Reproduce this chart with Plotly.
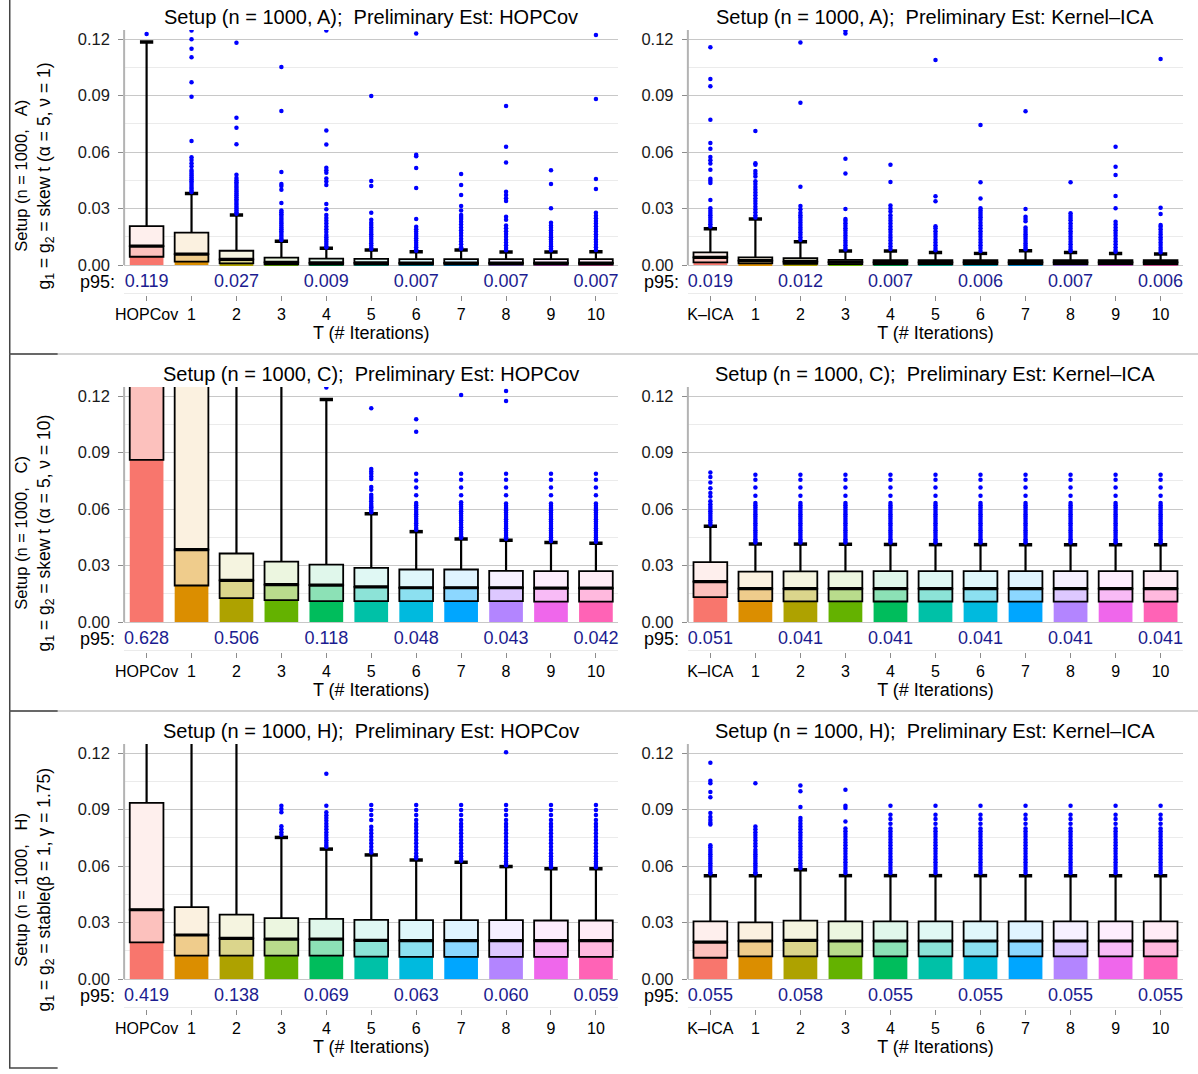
import plotly.graph_objects as go

W, H = 1198, 1074

# ---------------- categories / labels ----------------
HOP_CATS = ["HOPCov", "1", "2", "3", "4", "5", "6", "7", "8", "9", "10"]
ICA_CATS = ["K\u2013ICA", "1", "2", "3", "4", "5", "6", "7", "8", "9", "10"]
P95_POS = [0, 2, 4, 6, 8, 10]
COLORS = ["#F8766D", "#DB8E00", "#AEA200", "#64B200", "#00BD5C", "#00C1A7",
          "#00BADE", "#00A6FF", "#B385FF", "#EF67EB", "#FF63B6"]

# ---------------- Setup A, HOPCov ----------------
A_HOP_Q1 = [0.0044, 0.0018, 0.0009, 0.0004, 0.0003, 0.0003, 0.0003, 0.0003, 0.0003, 0.0003, 0.0003]
A_HOP_MED = [0.0101, 0.0058, 0.0030, 0.0014, 0.0012, 0.0012, 0.0011, 0.0011, 0.0011, 0.0011, 0.0011]
A_HOP_Q3 = [0.0207, 0.0172, 0.0076, 0.0039, 0.0034, 0.0033, 0.0032, 0.0032, 0.0032, 0.0032, 0.0032]
A_HOP_WHI = [0.1184, 0.0380, 0.0266, 0.0127, 0.0089, 0.0080, 0.0071, 0.0080, 0.0069, 0.0069, 0.0071]
A_HOP_OUT = [
    [0.1227],
    [0.1245, 0.1199, 0.1149, 0.1103, 0.0970, 0.0894, 0.0659, 0.0572, 0.0558, 0.0540, 0.0525, 0.0505,
     0.0495, 0.0485, 0.0475, 0.0465, 0.0455, 0.0445, 0.0435, 0.0425, 0.0415, 0.0405, 0.0395, 0.0388],
    [0.1180, 0.0782, 0.0729, 0.0642, 0.0480, 0.0462, 0.0450, 0.0440, 0.0430, 0.0420, 0.0410, 0.0400,
     0.0390, 0.0380, 0.0370, 0.0360, 0.0350, 0.0340, 0.0330, 0.0320, 0.0310, 0.0300, 0.0290, 0.0280, 0.0272],
    [0.1051, 0.0818, 0.0494, 0.0430, 0.0420, 0.0400, 0.0330, 0.0290, 0.0280, 0.0270, 0.0260, 0.0250,
     0.0240, 0.0230, 0.0220, 0.0210, 0.0200, 0.0190, 0.0180, 0.0170, 0.0160, 0.0150, 0.0140, 0.0133],
    [0.1245, 0.0715, 0.0640, 0.0517, 0.0503, 0.0490, 0.0460, 0.0443, 0.0425, 0.0324, 0.0296, 0.0266,
     0.0250, 0.0235, 0.0220, 0.0205, 0.0190, 0.0175, 0.0160, 0.0148, 0.0136, 0.0124, 0.0112, 0.0100, 0.0093],
    [0.0897, 0.0446, 0.0420, 0.0278, 0.0240, 0.0225, 0.0213, 0.0200, 0.0188, 0.0176, 0.0164, 0.0152,
     0.0140, 0.0128, 0.0116, 0.0104, 0.0092, 0.0085],
    [0.1230, 0.0585, 0.0578, 0.0515, 0.0409, 0.0244, 0.0203, 0.0190, 0.0178, 0.0166, 0.0154, 0.0142,
     0.0130, 0.0118, 0.0106, 0.0094, 0.0082, 0.0076],
    [0.0483, 0.0425, 0.0372, 0.0313, 0.0290, 0.0266, 0.0255, 0.0245, 0.0230, 0.0215, 0.0200, 0.0185,
     0.0170, 0.0155, 0.0140, 0.0125, 0.0110, 0.0095, 0.0086],
    [0.0844, 0.0628, 0.0545, 0.0389, 0.0372, 0.0355, 0.0340, 0.0256, 0.0240, 0.0210, 0.0195, 0.0180,
     0.0165, 0.0150, 0.0135, 0.0120, 0.0105, 0.0090, 0.0078],
    [0.0504, 0.0430, 0.0301, 0.0225, 0.0210, 0.0198, 0.0185, 0.0172, 0.0160, 0.0148, 0.0136, 0.0124,
     0.0112, 0.0100, 0.0088, 0.0078],
    [0.1221, 0.0882, 0.0457, 0.0404, 0.0278, 0.0262, 0.0248, 0.0234, 0.0220, 0.0206, 0.0192, 0.0178,
     0.0164, 0.0150, 0.0136, 0.0122, 0.0108, 0.0094, 0.0080],
]
A_HOP_P95 = [0.119, 0.027, 0.009, 0.007, 0.007, 0.007]

# ---------------- Setup A, Kernel-ICA ----------------
A_ICA_Q1 = [0.0014, 0.0009, 0.0007, 0.0005, 0.0004, 0.0004, 0.0004, 0.0004, 0.0004, 0.0004, 0.0004]
A_ICA_MED = [0.0041, 0.0023, 0.0018, 0.0016, 0.0014, 0.0014, 0.0014, 0.0014, 0.0014, 0.0014, 0.0014]
A_ICA_Q3 = [0.0067, 0.0041, 0.0036, 0.0028, 0.0026, 0.0026, 0.0026, 0.0026, 0.0026, 0.0026, 0.0026]
A_ICA_WHI = [0.0193, 0.0244, 0.0124, 0.0074, 0.0074, 0.0066, 0.0062, 0.0076, 0.0067, 0.0062, 0.0059]
A_ICA_OUT = [
    [0.1157, 0.0988, 0.0949, 0.0772, 0.0648, 0.0618, 0.0574, 0.0556, 0.0539, 0.0506, 0.0458, 0.0448,
     0.0436, 0.0345, 0.0301, 0.0288, 0.0276, 0.0264, 0.0252, 0.0240, 0.0228, 0.0216, 0.0205],
    [0.0712, 0.0541, 0.0532, 0.0500, 0.0485, 0.0470, 0.0445, 0.0430, 0.0415, 0.0400, 0.0385, 0.0370,
     0.0355, 0.0340, 0.0325, 0.0310, 0.0295, 0.0280, 0.0265, 0.0252],
    [0.1181, 0.0862, 0.0416, 0.0313, 0.0296, 0.0278, 0.0265, 0.0252, 0.0239, 0.0226, 0.0213, 0.0200,
     0.0187, 0.0174, 0.0161, 0.0148, 0.0135],
    [0.1244, 0.1229, 0.0564, 0.0486, 0.0298, 0.0245, 0.0235, 0.0222, 0.0209, 0.0196, 0.0183, 0.0170,
     0.0157, 0.0144, 0.0131, 0.0118, 0.0105, 0.0092, 0.0082],
    [0.0533, 0.0441, 0.0316, 0.0300, 0.0285, 0.0265, 0.0250, 0.0235, 0.0220, 0.0205, 0.0190, 0.0175,
     0.0160, 0.0145, 0.0130, 0.0115, 0.0100, 0.0085],
    [0.1089, 0.0365, 0.0339, 0.0206, 0.0195, 0.0180, 0.0165, 0.0150, 0.0135, 0.0120, 0.0105, 0.0090, 0.0078],
    [0.0743, 0.0439, 0.0354, 0.0301, 0.0290, 0.0278, 0.0266, 0.0254, 0.0240, 0.0225, 0.0210, 0.0195,
     0.0180, 0.0165, 0.0150, 0.0135, 0.0120, 0.0105, 0.0090, 0.0074],
    [0.0817, 0.0297, 0.0257, 0.0245, 0.0232, 0.0200, 0.0188, 0.0176, 0.0164, 0.0152, 0.0140, 0.0128,
     0.0116, 0.0104, 0.0092, 0.0084],
    [0.0439, 0.0275, 0.0262, 0.0250, 0.0238, 0.0222, 0.0208, 0.0194, 0.0180, 0.0166, 0.0152, 0.0138,
     0.0124, 0.0110, 0.0096, 0.0082, 0.0074],
    [0.0628, 0.0522, 0.0478, 0.0366, 0.0301, 0.0230, 0.0215, 0.0200, 0.0185, 0.0170, 0.0155, 0.0140,
     0.0125, 0.0110, 0.0095, 0.0080, 0.0070],
    [0.1094, 0.0304, 0.0271, 0.0213, 0.0204, 0.0190, 0.0176, 0.0162, 0.0148, 0.0134, 0.0120, 0.0106,
     0.0092, 0.0080, 0.0068],
]
A_ICA_P95 = [0.019, 0.012, 0.007, 0.006, 0.007, 0.006]

# ---------------- Setup C, HOPCov ----------------
C_HOP_Q1 = [0.0861, 0.0194, 0.0127, 0.0116, 0.0111, 0.0111, 0.0111, 0.0111, 0.0111, 0.0108, 0.0108]
C_HOP_MED = [0.160, 0.0385, 0.0221, 0.0199, 0.0196, 0.0187, 0.0182, 0.0182, 0.0182, 0.0180, 0.0180]
C_HOP_Q3 = [0.350, 0.200, 0.0364, 0.0321, 0.0305, 0.0288, 0.0279, 0.0279, 0.0272, 0.0270, 0.0270]
C_HOP_WHI = [0.900, 0.800, 0.300, 0.200, 0.1182, 0.0575, 0.0480, 0.0441, 0.0434, 0.0422, 0.0418]
C_HOP_OUT = [
    [], [], [], [],
    [0.1245],
    [0.1135, 0.0812, 0.0800, 0.0787, 0.0773, 0.0759, 0.0717, 0.0702, 0.0676, 0.0664, 0.0653, 0.0641,
     0.0628, 0.0618, 0.0609, 0.0600, 0.0591, 0.0583],
    [0.1077, 0.1010, 0.0787, 0.0752, 0.0715, 0.0673, 0.0632, 0.0620, 0.0608, 0.0596, 0.0584, 0.0572,
     0.0560, 0.0548, 0.0536, 0.0524, 0.0512, 0.0500, 0.0490],
    [0.1205, 0.0787, 0.0755, 0.0715, 0.0673, 0.0636, 0.0624, 0.0612, 0.0600, 0.0588, 0.0576, 0.0564,
     0.0552, 0.0540, 0.0528, 0.0516, 0.0504, 0.0492, 0.0480, 0.0468, 0.0456, 0.0448],
    [0.1227, 0.1174, 0.0787, 0.0755, 0.0715, 0.0673, 0.0630, 0.0618, 0.0606, 0.0594, 0.0582, 0.0570,
     0.0558, 0.0546, 0.0534, 0.0522, 0.0510, 0.0498, 0.0486, 0.0474, 0.0462, 0.0450, 0.0442],
    [0.0787, 0.0755, 0.0715, 0.0673, 0.0630, 0.0618, 0.0606, 0.0594, 0.0582, 0.0570, 0.0558, 0.0546,
     0.0534, 0.0522, 0.0510, 0.0498, 0.0486, 0.0474, 0.0462, 0.0450, 0.0438, 0.0430],
    [0.0787, 0.0755, 0.0715, 0.0673, 0.0630, 0.0618, 0.0606, 0.0594, 0.0582, 0.0570, 0.0558, 0.0546,
     0.0534, 0.0522, 0.0510, 0.0498, 0.0486, 0.0474, 0.0462, 0.0450, 0.0438, 0.0426],
]
C_HOP_P95 = [0.628, 0.506, 0.118, 0.048, 0.043, 0.042]

# ---------------- Setup C, Kernel-ICA ----------------
C_ICA_Q1 = [0.0132, 0.0111, 0.0110, 0.0110, 0.0109, 0.0109, 0.0108, 0.0108, 0.0108, 0.0108, 0.0108]
C_ICA_MED = [0.0215, 0.0178, 0.0178, 0.0178, 0.0178, 0.0178, 0.0178, 0.0178, 0.0178, 0.0178, 0.0178]
C_ICA_Q3 = [0.0318, 0.0268, 0.0269, 0.0269, 0.0270, 0.0270, 0.0270, 0.0270, 0.0270, 0.0270, 0.0270]
C_ICA_WHI = [0.0508, 0.0415, 0.0414, 0.0413, 0.0412, 0.0411, 0.0411, 0.0411, 0.0411, 0.0411, 0.0411]
C_ICA_OUT_KICA = [0.0794, 0.0770, 0.0741, 0.0711, 0.0685, 0.0667, 0.0641, 0.0625, 0.0612, 0.0600,
                  0.0588, 0.0576, 0.0564, 0.0552, 0.0540, 0.0528, 0.0518]
C_ICA_OUT_ITER = [0.0782, 0.0755, 0.0715, 0.0671, 0.0632, 0.0620, 0.0608, 0.0596, 0.0584, 0.0572,
                  0.0560, 0.0548, 0.0536, 0.0524, 0.0512, 0.0500, 0.0488, 0.0476, 0.0464, 0.0452,
                  0.0440, 0.0430, 0.0422]
C_ICA_P95 = [0.051, 0.041, 0.041, 0.041, 0.041, 0.041]

# ---------------- Setup H, HOPCov ----------------
H_HOP_Q1 = [0.0195, 0.0124, 0.0124, 0.0124, 0.0124, 0.0119, 0.0118, 0.0118, 0.0118, 0.0118, 0.0118]
H_HOP_MED = [0.0368, 0.0234, 0.0216, 0.0212, 0.0212, 0.0205, 0.0204, 0.0204, 0.0204, 0.0204, 0.0204]
H_HOP_Q3 = [0.0935, 0.0382, 0.0342, 0.0324, 0.0319, 0.0314, 0.0313, 0.0313, 0.0313, 0.0311, 0.0311]
H_HOP_WHI = [0.500, 0.300, 0.200, 0.0752, 0.0690, 0.0659, 0.0632, 0.0620, 0.0597, 0.0586, 0.0586]
H_HOP_OUT = [
    [], [], [],
    [0.0920, 0.0903, 0.0885, 0.0811, 0.0796, 0.0779, 0.0766],
    [0.1090, 0.0920, 0.0885, 0.0870, 0.0855, 0.0840, 0.0825, 0.0810, 0.0795, 0.0780, 0.0765, 0.0750,
     0.0737, 0.0724, 0.0712, 0.0702],
    [0.0924, 0.0897, 0.0871, 0.0844, 0.0809, 0.0791, 0.0774, 0.0756, 0.0738, 0.0721, 0.0703, 0.0685, 0.0672],
    [0.0924, 0.0897, 0.0871, 0.0844, 0.0825, 0.0809, 0.0791, 0.0774, 0.0756, 0.0738, 0.0721, 0.0703,
     0.0685, 0.0668, 0.0652, 0.0642],
    [0.0924, 0.0897, 0.0871, 0.0844, 0.0825, 0.0809, 0.0791, 0.0774, 0.0756, 0.0738, 0.0721, 0.0703,
     0.0685, 0.0668, 0.0652, 0.0638, 0.0628],
    [0.1204, 0.0924, 0.0897, 0.0871, 0.0844, 0.0825, 0.0809, 0.0791, 0.0774, 0.0756, 0.0738, 0.0721,
     0.0703, 0.0685, 0.0668, 0.0652, 0.0638, 0.0624, 0.0612, 0.0604],
    [0.0924, 0.0897, 0.0871, 0.0844, 0.0825, 0.0809, 0.0791, 0.0774, 0.0756, 0.0738, 0.0721, 0.0703,
     0.0685, 0.0668, 0.0652, 0.0638, 0.0624, 0.0612, 0.0600, 0.0593],
    [0.0924, 0.0897, 0.0871, 0.0844, 0.0825, 0.0809, 0.0791, 0.0774, 0.0756, 0.0738, 0.0721, 0.0703,
     0.0685, 0.0668, 0.0652, 0.0638, 0.0624, 0.0612, 0.0600, 0.0593],
]
H_HOP_P95 = [0.419, 0.138, 0.069, 0.063, 0.060, 0.059]

# ---------------- Setup H, Kernel-ICA ----------------
H_ICA_Q1 = [0.0113, 0.0120, 0.0120, 0.0120, 0.0120, 0.0120, 0.0120, 0.0120, 0.0120, 0.0120, 0.0120]
H_ICA_MED = [0.0196, 0.0202, 0.0205, 0.0202, 0.0202, 0.0202, 0.0202, 0.0202, 0.0202, 0.0202, 0.0202]
H_ICA_Q3 = [0.0306, 0.0301, 0.0310, 0.0306, 0.0306, 0.0306, 0.0306, 0.0306, 0.0306, 0.0306, 0.0306]
H_ICA_WHI = [0.0549, 0.0549, 0.0580, 0.0549, 0.0549, 0.0549, 0.0549, 0.0549, 0.0549, 0.0549, 0.0549]
H_ICA_OUT_KICA = [0.1149, 0.1053, 0.1040, 0.0993, 0.0965, 0.0881, 0.0860, 0.0845, 0.0830, 0.0820,
                  0.0710, 0.0700, 0.0687, 0.0675, 0.0663, 0.0651, 0.0639, 0.0627, 0.0615, 0.0603,
                  0.0591, 0.0579, 0.0567, 0.0560]
H_ICA_OUT_1 = [0.1040, 0.0810, 0.0795, 0.0780, 0.0765, 0.0750, 0.0735, 0.0720, 0.0705, 0.0687,
               0.0675, 0.0663, 0.0651, 0.0639, 0.0627, 0.0615, 0.0603, 0.0591, 0.0579, 0.0567, 0.0560]
H_ICA_OUT_2 = [0.1027, 0.0997, 0.0913, 0.0855, 0.0840, 0.0825, 0.0810, 0.0795, 0.0780, 0.0765,
               0.0750, 0.0735, 0.0720, 0.0705, 0.0690, 0.0675, 0.0660, 0.0645, 0.0630, 0.0615,
               0.0600, 0.0590]
H_ICA_OUT_3 = [0.1005, 0.0920, 0.0908, 0.0837, 0.0800, 0.0785, 0.0770, 0.0755, 0.0740, 0.0725,
               0.0710, 0.0695, 0.0680, 0.0665, 0.0650, 0.0635, 0.0620, 0.0605, 0.0590, 0.0575, 0.0563]
H_ICA_OUT_ITER = [0.0920, 0.0873, 0.0850, 0.0825, 0.0800, 0.0785, 0.0770, 0.0755, 0.0740, 0.0725,
                  0.0710, 0.0695, 0.0680, 0.0665, 0.0650, 0.0635, 0.0620, 0.0605, 0.0590, 0.0575, 0.0563]
H_ICA_P95 = [0.055, 0.058, 0.055, 0.055, 0.055, 0.055]

NB = "\u00a0"
TITLES = [
    f"Setup (n = 1000, A);{NB} Preliminary Est: HOPCov",
    f"Setup (n = 1000, A);{NB} Preliminary Est: Kernel\u2013ICA",
    f"Setup (n = 1000, C);{NB} Preliminary Est: HOPCov",
    f"Setup (n = 1000, C);{NB} Preliminary Est: Kernel\u2013ICA",
    f"Setup (n = 1000, H);{NB} Preliminary Est: HOPCov",
    f"Setup (n = 1000, H);{NB} Preliminary Est: Kernel\u2013ICA",
]
ROW_LABEL_1 = [f"Setup (n = 1000,{NB}{NB} A)", f"Setup (n = 1000,{NB}{NB} C)", f"Setup (n = 1000,{NB}{NB} H)"]
ROW_LABEL_2 = [
    "g<sub>1</sub> = g<sub>2</sub> = skew t (\u03b1 = 5, \u03bd = 1)",
    "g<sub>1</sub> = g<sub>2</sub> = skew t (\u03b1 = 5, \u03bd = 10)",
    "g<sub>1</sub> = g<sub>2</sub> = stable(\u03b2 = 1, \u03b3 = 1.75)",
]
X_TITLE = "T (# Iterations)"
Y_TICKS = [0.0, 0.03, 0.06, 0.09, 0.12]
Y_TICKTEXT = ["0.00", "0.03", "0.06", "0.09", "0.12"]
Y_MINOR = [-0.015, 0.015, 0.045, 0.075, 0.105]
Y_RANGE = [-0.0159, 0.1248]
P95_Y = -0.0092

panels = [
    dict(row=0, col=0, cats=HOP_CATS, q1=A_HOP_Q1, med=A_HOP_MED, q3=A_HOP_Q3, whi=A_HOP_WHI, out=A_HOP_OUT, p95=A_HOP_P95),
    dict(row=0, col=1, cats=ICA_CATS, q1=A_ICA_Q1, med=A_ICA_MED, q3=A_ICA_Q3, whi=A_ICA_WHI, out=A_ICA_OUT, p95=A_ICA_P95),
    dict(row=1, col=0, cats=HOP_CATS, q1=C_HOP_Q1, med=C_HOP_MED, q3=C_HOP_Q3, whi=C_HOP_WHI, out=C_HOP_OUT, p95=C_HOP_P95),
    dict(row=1, col=1, cats=ICA_CATS, q1=C_ICA_Q1, med=C_ICA_MED, q3=C_ICA_Q3, whi=C_ICA_WHI,
         out=[C_ICA_OUT_KICA] + [C_ICA_OUT_ITER] * 10, p95=C_ICA_P95),
    dict(row=2, col=0, cats=HOP_CATS, q1=H_HOP_Q1, med=H_HOP_MED, q3=H_HOP_Q3, whi=H_HOP_WHI, out=H_HOP_OUT, p95=H_HOP_P95),
    dict(row=2, col=1, cats=ICA_CATS, q1=H_ICA_Q1, med=H_ICA_MED, q3=H_ICA_Q3, whi=H_ICA_WHI,
         out=[H_ICA_OUT_KICA, H_ICA_OUT_1, H_ICA_OUT_2, H_ICA_OUT_3] + [H_ICA_OUT_ITER] * 7, p95=H_ICA_P95),
]

FONT = "Liberation Sans, Arial, Helvetica, sans-serif"
XO = -8            # horizontal page offset correction (px)
ROW_TOPS = [30, 387, 744]
PLOT_H = 265
COL_X = [(124 + XO, 622 + XO), (692 + XO, 1191 + XO)]
BOX_W = 0.75
MED_SIZE = 24.5   # line-ew length = 1.4 * size  -> ~34 px, the box width
CAP_SIZE = 9.5


def blend(hexc, a):
    r, g, b = int(hexc[1:3], 16), int(hexc[3:5], 16), int(hexc[5:7], 16)
    return "rgb(%d,%d,%d)" % (round(255 - (255 - r) * a), round(255 - (255 - g) * a), round(255 - (255 - b) * a))


LIGHT1 = [blend(c, 0.45) for c in COLORS]
LIGHT2 = [blend(c, 0.12) for c in COLORS]

fig = go.Figure()
layout = dict(width=W, height=H, margin=dict(l=0, r=0, t=0, b=0), paper_bgcolor="white",
              plot_bgcolor="white", showlegend=False, barmode="overlay",
              font=dict(family=FONT, color="black"))
annotations = []
shapes = []

for idx, p in enumerate(panels, start=1):
    xa = "x" if idx == 1 else f"x{idx}"
    ya = "y" if idx == 1 else f"y{idx}"
    xs = list(range(len(p["cats"])))
    q1, med, q3, whi = p["q1"], p["med"], p["q3"], p["whi"]

    fig.add_trace(go.Bar(x=xs, y=q1, base=[0] * len(xs), width=BOX_W, xaxis=xa, yaxis=ya,
                         marker=dict(color=COLORS, line=dict(width=0)), hoverinfo="skip"))
    fig.add_trace(go.Bar(x=xs, y=[m - a for m, a in zip(med, q1)], base=q1, width=BOX_W, xaxis=xa, yaxis=ya,
                         marker=dict(color=LIGHT1, line=dict(width=1.8, color="black")), hoverinfo="skip"))
    fig.add_trace(go.Bar(x=xs, y=[b - m for b, m in zip(q3, med)], base=med, width=BOX_W, xaxis=xa, yaxis=ya,
                         marker=dict(color=LIGHT2, line=dict(width=1.8, color="black")), hoverinfo="skip"))

    wx, wy = [], []
    for i in xs:
        wx += [i, i, None]
        wy += [q3[i], whi[i], None]
    fig.add_trace(go.Scatter(x=wx, y=wy, mode="lines", xaxis=xa, yaxis=ya,
                             line=dict(color="black", width=2.2), hoverinfo="skip"))
    fig.add_trace(go.Scatter(x=xs, y=whi, mode="markers", xaxis=xa, yaxis=ya,
                             marker=dict(symbol="line-ew", size=CAP_SIZE, line=dict(color="black", width=3.5)),
                             hoverinfo="skip"))
    fig.add_trace(go.Scatter(x=xs, y=med, mode="markers", xaxis=xa, yaxis=ya,
                             marker=dict(symbol="line-ew", size=MED_SIZE, line=dict(color="black", width=3.2)),
                             hoverinfo="skip"))
    ox, oy = [], []
    for i, vals in enumerate(p["out"]):
        ox += [i] * len(vals)
        oy += vals
    fig.add_trace(go.Scatter(x=ox, y=oy, mode="markers", xaxis=xa, yaxis=ya,
                             marker=dict(color="#0000FF", size=4.5, line=dict(width=0)), hoverinfo="skip"))
    fig.add_trace(go.Scatter(x=P95_POS, y=[P95_Y] * len(P95_POS), mode="text", xaxis=xa, yaxis=ya,
                             text=["%.3f" % v for v in p["p95"]], cliponaxis=False,
                             textfont=dict(color="#1C1C90", size=18, family=FONT), hoverinfo="skip"))

    top = ROW_TOPS[p["row"]]
    bot = top + PLOT_H
    x0, x1 = COL_X[p["col"]]
    layout["xaxis" if idx == 1 else f"xaxis{idx}"] = dict(
        domain=[x0 / W, x1 / W], anchor=ya, range=[-0.5, len(xs) - 0.5],
        tickmode="array", tickvals=xs, ticktext=p["cats"], ticks="outside", ticklen=5,
        tickwidth=1.3, tickcolor="#8c8c8c", showgrid=False, zeroline=False, showline=False,
        tickfont=dict(size=16, family=FONT, color="black"),
        title=dict(text=X_TITLE, font=dict(size=18, family=FONT, color="black"), standoff=0),
        fixedrange=True)
    layout["yaxis" if idx == 1 else f"yaxis{idx}"] = dict(
        domain=[1 - bot / H, 1 - top / H], anchor=xa, range=Y_RANGE,
        tickmode="array", tickvals=Y_TICKS, ticktext=Y_TICKTEXT, ticks="outside", ticklen=5,
        tickwidth=1.3, tickcolor="#8c8c8c", showgrid=True, gridcolor="#c8c8c8", gridwidth=1.2,
        zeroline=False, showline=False, tickfont=dict(size=16.5, family=FONT, color="#1a1a1a"),
        ticklabelstandoff=5,
        minor=dict(tickmode="array", tickvals=Y_MINOR, showgrid=True, gridcolor="#ebebeb",
                   gridwidth=1.2, ticks=""),
        fixedrange=True)

    shapes.append(dict(type="line", xref=f"{xa} domain", yref=ya, x0=0, x1=0, y0=0, y1=Y_RANGE[1],
                       line=dict(color="#b3b3b3", width=2)))
    annotations.append(dict(text=TITLES[idx - 1], xref=f"{xa} domain", yref="paper", x=0.5,
                            y=1 - (top - 13) / H, xanchor="center", yanchor="middle", showarrow=False,
                            font=dict(size=20, family=FONT, color="black")))
    annotations.append(dict(text="p95:", xref=f"{xa} domain", yref=ya, x=0, y=P95_Y, xanchor="right",
                            yanchor="middle", xshift=-7, showarrow=False,
                            font=dict(size=18, family=FONT, color="black")))
    if p["col"] == 0:
        r = p["row"]
        annotations.append(dict(text=ROW_LABEL_1[r], xref="paper", yref=f"{ya} domain", x=(20 + XO) / W, y=0.45,
                                xanchor="center", yanchor="middle", textangle=-90, showarrow=False,
                                font=dict(size=16.5, family=FONT, color="black")))
        annotations.append(dict(text=ROW_LABEL_2[r], xref="paper", yref=f"{ya} domain", x=(45 + XO) / W, y=0.45,
                                xanchor="center", yanchor="middle", textangle=-90, showarrow=False,
                                font=dict(size=17.5, family=FONT, color="black")))

# frame lines
FX = 0.75
shapes.append(dict(type="line", xref="paper", yref="paper", x0=FX / W, x1=FX / W, y0=1, y1=1 - 1068 / H,
                   line=dict(color="#444444", width=1.5)))
for yy in (354, 711):
    shapes.append(dict(type="line", xref="paper", yref="paper", x0=0, x1=1, y0=1 - yy / H, y1=1 - yy / H,
                       line=dict(color="#a6a6a6", width=1.2)))
for yy in (354, 711, 1068):
    shapes.append(dict(type="line", xref="paper", yref="paper", x0=0, x1=(57 + XO) / W, y0=1 - yy / H,
                       y1=1 - yy / H, line=dict(color="#444444", width=1.5)))

layout["annotations"] = annotations
layout["shapes"] = shapes
fig.update_layout(**layout)
fig.write_html("out.html")
